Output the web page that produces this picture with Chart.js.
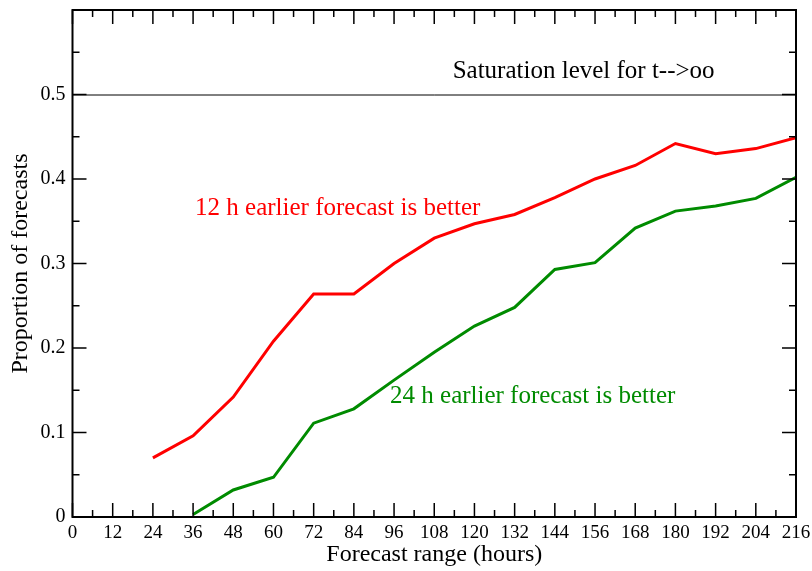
<!DOCTYPE html>
<html><head><meta charset="utf-8">
<script src="https://cdn.jsdelivr.net/npm/chart.js@4.4.0/dist/chart.umd.min.js"></script>
<style>html,body{margin:0;padding:0;background:#fff}</style>
</head><body>
<canvas id="c" width="812" height="571"></canvas>
<script>
const hours = [0,12,24,36,48,60,72,84,96,108,120,132,144,156,168,180,192,204,216];
const earlier12 = [null,null,0.070,0.096,0.142,0.208,0.264,0.264,0.300,0.330,0.347,0.358,0.378,0.400,0.416,0.442,0.430,0.436,0.449];
const earlier24 = [null,null,null,0.003,0.032,0.047,0.111,0.128,0.162,0.195,0.226,0.248,0.293,0.301,0.342,0.362,0.368,0.377,0.402];
const yTickLabels = [0,0.1,0.2,0.3,0.4,0.5];
const saturationLevel = 0.5;
const notes = [
  {text:'Saturation level for t-->oo', x:113.5, y:0.520, color:'#000000'},
  {text:'12 h earlier forecast is better', x:36.6, y:0.357, color:'#ff0000'},
  {text:'24 h earlier forecast is better', x:94.8, y:0.135, color:'rgb(0,139,0)'}
];
const FONT = '"Liberation Serif", "DejaVu Serif", serif';

const toPts = arr => hours.map((h,i)=>({x:h,y:arr[i]})).filter(p=>p.y!==null);

const framePlugin = {
  id:'frame',
  afterDatasetsDraw(chart){
    const {ctx, chartArea:a, scales:{x, y}} = chart;
    ctx.save();
    const ys = y.getPixelForValue(saturationLevel);
    ctx.strokeStyle = '#000'; ctx.lineWidth = 1;
    ctx.beginPath(); ctx.moveTo(a.left, ys+0.5); ctx.lineTo(a.right, ys+0.5); ctx.stroke();
    ctx.lineWidth = 2;
    ctx.strokeRect(a.left, a.top, a.right-a.left, a.bottom-a.top);
    ctx.lineWidth = 1.5;
    ctx.beginPath();
    for (let v=0; v<=216; v+=6){
      const px = x.getPixelForValue(v);
      const len = (v%12===0)?14:7;
      ctx.moveTo(px, a.bottom); ctx.lineTo(px, a.bottom-len);
      ctx.moveTo(px, a.top); ctx.lineTo(px, a.top+len);
    }
    for (let k=0; k<=12; k++){
      const v = k*0.05;
      const py = y.getPixelForValue(v);
      const len = (k%2===0)?14:7;
      ctx.moveTo(a.left, py); ctx.lineTo(a.left+len, py);
      ctx.moveTo(a.right, py); ctx.lineTo(a.right-len, py);
    }
    ctx.stroke();
    ctx.font = '25px ' + FONT;
    ctx.textBaseline = 'alphabetic';
    ctx.textAlign = 'left';
    notes.forEach(n=>{
      ctx.fillStyle = n.color;
      ctx.fillText(n.text, x.getPixelForValue(n.x), y.getPixelForValue(n.y));
    });
    ctx.restore();
  }
};

new Chart(document.getElementById('c'), {
  type:'line',
  data:{datasets:[
    {label:'12 h', data:toPts(earlier12), borderColor:'#ff0000', borderWidth:3, pointRadius:0, tension:0, fill:false},
    {label:'24 h', data:toPts(earlier24), borderColor:'rgb(0,139,0)', borderWidth:3, pointRadius:0, tension:0, fill:false}
  ]},
  options:{
    responsive:false, animation:false, devicePixelRatio:1,
    layout:{padding:{left:0, top:10, right:16, bottom:0}},
    plugins:{legend:{display:false}, tooltip:{enabled:false}},
    scales:{
      x:{type:'linear', min:0, max:216,
        grid:{display:false, drawTicks:false}, border:{display:false},
        ticks:{stepSize:12, autoSkip:false, maxRotation:0, padding:5, color:'#000', font:{family:FONT, size:19}},
        title:{display:true, text:'Forecast range (hours)', color:'#000', font:{family:FONT, size:24}, padding:{top:0,bottom:2}},
        afterFit(s){ s.height = 54; s.paddingLeft = 0; s.paddingRight = 0; }
      },
      y:{type:'linear', min:0, max:0.6,
        grid:{display:false, drawTicks:false}, border:{display:false},
        ticks:{stepSize:0.1, padding:7, color:'#000', font:{family:FONT, size:20},
          callback(v){ const m = yTickLabels.find(t=>Math.abs(t-v)<1e-6); return m===undefined?'':(m===0?'0':m.toFixed(1)); }},
        title:{display:true, text:'Proportion of forecasts', color:'#000', font:{family:FONT, size:24}, padding:{top:6,bottom:0}},
        afterFit(s){ s.width = 72.5; s.paddingTop = 0; s.paddingBottom = 0; }
      }
    }
  },
  plugins:[framePlugin]
});
</script>
</body></html>
